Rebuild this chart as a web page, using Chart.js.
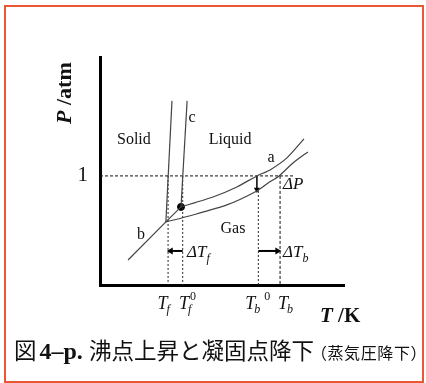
<!DOCTYPE html>
<html lang="ja">
<head>
<meta charset="UTF-8">
<title>沸点上昇と凝固点降下</title>
<script src="https://cdn.jsdelivr.net/npm/chart.js@4.4.2/dist/chart.umd.min.js"></script>
<style>
  body { margin: 0; background: #fff; }
  #wrap { position: relative; width: 426px; height: 383px; overflow: hidden; }
  #frame {
    position: absolute; left: 4px; top: 5px; width: 416px; height: 374px;
    border: 2px solid #ea5734; pointer-events: none;
  }
  canvas { position: absolute; left: 0; top: 0; }
  #caption {
    position: absolute; left: 14px; top: 334px; white-space: nowrap;
    font-family: 'Noto Sans CJK JP', sans-serif; font-size: 22.5px; line-height: 30px; color: #111;
  }
  #caption .num { font-family: 'Liberation Serif', serif; font-weight: bold; font-size: 24px; margin-left: 3px; }
  #caption .small { font-size: 16px; letter-spacing: 0.6px; margin-left: -3px; }
</style>
</head>
<body>
<div id="wrap">
  <canvas id="phase" width="426" height="383"></canvas>
  <div id="frame"></div>
  <div id="caption">図<span class="num">4–p. </span>沸点上昇と凝固点降下<span class="small">（蒸気圧降下）</span></div>
</div>

<script>
  // 軸の範囲 (T は任意単位, P は atm)
  const T_MIN = 0, T_MAX = 10;
  const P_MIN = 0, P_MAX = 2.09;

  // 昇華曲線 b
  const subT = [1.15, 2.70, 3.32];
  const subP = [0.229, 0.578, 0.716];

  // 純溶媒の蒸気圧曲線 a
  const vapT = [3.32, 4.63, 5.61, 6.43, 6.97, 7.66, 8.36];
  const vapP = [0.716, 0.807, 0.899, 1.000, 1.055, 1.165, 1.339];

  // 溶液の蒸気圧曲線
  const solVapT = [2.70, 3.81, 5.20, 6.43, 6.89, 7.34, 7.91, 8.52];
  const solVapP = [0.578, 0.642, 0.734, 0.862, 0.936, 1.000, 1.119, 1.220];

  // 融解曲線 c (純溶媒) と溶液
  const fusT = [3.32, 3.57];
  const fusP = [0.716, 1.688];
  const solFusT = [2.70, 2.95];
  const solFusP = [0.578, 1.688];

  // 三重点
  const tripleT = 3.32, tripleP = 0.716;

  // 温度の目盛り
  const Tf = 2.79, Tf0 = 3.39, Tb0 = 6.49, Tb = 7.38;
  const tickT = [Tf, Tf0, Tb0, Tb];
  const tickMain = ['T', 'T', 'T', 'T'];
  const tickSub = ['f', 'f', 'b', 'b'];
  const tickSup = ['', '0', '0', ''];
  const tickShift = [-4, 3, 0, 6];

  // 圧力の目盛り
  const pTicks = [1];
  const pTickLabels = ['1'];

  // 1 atm の線
  const oneAtmT = [0, 7.99];

  // 矢印
  const dPArrowT = 6.43, dPArrowP = [1.0, 0.875];
  const arrowP = 0.312;
  const dTfArrowT = [3.39, 2.90];
  const dTbArrowT = [6.49, 7.27];

  // 文字ラベル
  const regionText = ['Solid', 'Liquid', 'Gas', 'a', 'b', 'c'];
  const regionT = [1.39, 5.33, 5.45, 7.01, 1.68, 3.77];
  const regionP = [1.339, 1.339, 0.523, 1.174, 0.468, 1.541];

  const pts = (xs, ys) => xs.map((v, i) => ({ x: v, y: ys[i] }));
  const curve = '#444';
  const serif = '"Liberation Serif", "Times New Roman", serif';

  function line(data, opts) {
    return Object.assign({
      data: data, showLine: true, pointRadius: 0, borderColor: curve,
      borderWidth: 1.2, tension: 0, fill: false
    }, opts || {});
  }

  const datasets = [
    line(pts(subT, subP)),
    line(pts(vapT, vapP), { tension: 0.2 }),
    line(pts(solVapT, solVapP), { tension: 0.2 }),
    line(pts(fusT, fusP)),
    line(pts(solFusT, solFusP)),
    line(pts(oneAtmT, [1, 1]), { borderColor: '#111', borderWidth: 1, borderDash: [3, 2] }),
    line(pts([Tf, Tf], [1, 0]), { borderColor: '#222', borderWidth: 1, borderDash: [2, 2] }),
    line(pts([Tf0, Tf0], [1, 0]), { borderColor: '#222', borderWidth: 1, borderDash: [2, 2] }),
    line(pts([Tb0, Tb0], [solVapP[3], 0]), { borderColor: '#222', borderWidth: 1, borderDash: [2, 2] }),
    line(pts([Tb, Tb], [1, 0]), { borderColor: '#111', borderWidth: 1, borderDash: [3, 2] }),
    // 矢印
    line(pts([dPArrowT, dPArrowT], dPArrowP), {
      borderColor: '#000', borderWidth: 1.5, pointStyle: 'triangle',
      pointRadius: [0, 3.5], rotation: [0, 180], pointBackgroundColor: '#000', pointBorderWidth: 0
    }),
    line(pts(dTfArrowT, [arrowP, arrowP]), {
      borderColor: '#000', borderWidth: 2, pointStyle: 'triangle',
      pointRadius: [0, 4], rotation: [0, 270], pointBackgroundColor: '#000', pointBorderWidth: 0
    }),
    line(pts(dTbArrowT, [arrowP, arrowP]), {
      borderColor: '#000', borderWidth: 2, pointStyle: 'triangle',
      pointRadius: [0, 4], rotation: [0, 90], pointBackgroundColor: '#000', pointBorderWidth: 0
    }),
    // 三重点
    { data: [{ x: tripleT, y: tripleP }], pointRadius: 3.5, pointBackgroundColor: '#000', pointBorderColor: '#000' }
  ];

  // 部分ごとにフォントを変えて文字を書く
  function rich(ctx, parts, x, y) {
    let cx = x;
    parts.forEach(p => {
      ctx.font = p.font;
      ctx.fillText(p.t, cx, y + (p.dy || 0));
      cx += ctx.measureText(p.t).width + (p.gap || 0);
    });
  }

  const textPlugin = {
    id: 'phaseText',
    afterDraw(chart) {
      const { ctx, scales: { x, y } } = chart;
      ctx.save();
      ctx.fillStyle = '#111';
      ctx.textBaseline = 'alphabetic';

      // 領域名
      ctx.textAlign = 'center';
      ctx.font = '16px ' + serif;
      regionText.forEach((t, i) => {
        ctx.fillText(t, x.getPixelForValue(regionT[i]), y.getPixelForValue(regionP[i]) + 5);
      });

      ctx.textAlign = 'left';
      const it = 'italic 17px ' + serif;
      const itT = 'italic 18px ' + serif;
      const itS = 'italic 12px ' + serif;
      const upS = '12px ' + serif;

      // ΔP, ΔTf, ΔTb
      rich(ctx, [{ t: 'Δ', font: it }, { t: 'P', font: it }],
        x.getPixelForValue(7.50), y.getPixelForValue(0.936) + 6);
      rich(ctx, [{ t: 'Δ', font: it }, { t: 'T', font: it }, { t: 'f', font: itS, dy: 5 }],
        x.getPixelForValue(3.57), y.getPixelForValue(arrowP) + 6);
      rich(ctx, [{ t: 'Δ', font: it }, { t: 'T', font: it }, { t: 'b', font: itS, dy: 5 }],
        x.getPixelForValue(7.50), y.getPixelForValue(arrowP) + 6);

      // 温度の目盛りラベル
      tickT.forEach((v, i) => {
        const px = x.getPixelForValue(v) + tickShift[i];
        const base = 309;
        ctx.font = itT;
        const wT = ctx.measureText(tickMain[i]).width;
        ctx.font = itS;
        const wSub = ctx.measureText(tickSub[i]).width;
        const after = tickSup[i] && tickSub[i] === 'b';
        const total = wT + wSub + (after ? 10 : 0);
        const sx = px - total / 2;
        ctx.font = itT;
        ctx.fillText(tickMain[i], sx, base);
        ctx.font = itS;
        ctx.fillText(tickSub[i], sx + wT - 1, base + 4);
        if (tickSup[i]) {
          ctx.font = upS;
          const supX = after ? sx + wT + wSub + 3 : sx + wT + 1;
          ctx.fillText(tickSup[i], supX, base - 9);
        }
      });

      // 軸タイトル
      rich(ctx, [{ t: 'T', font: 'bold italic 21px ' + serif }, { t: ' /K', font: 'bold 21px ' + serif }],
        320, 322);
      ctx.translate(71, 124);
      ctx.rotate(-Math.PI / 2);
      rich(ctx, [{ t: 'P', font: 'bold italic 22px ' + serif }, { t: ' /atm', font: 'bold 22px ' + serif }],
        0, 0);
      ctx.restore();
    }
  };

  new Chart(document.getElementById('phase'), {
    type: 'scatter',
    data: { datasets: datasets },
    options: {
      responsive: false,
      animation: false,
      devicePixelRatio: 1,
      layout: { padding: { top: 57, right: 82, left: 0, bottom: 0 } },
      plugins: { legend: { display: false }, tooltip: { enabled: false } },
      scales: {
        x: {
          type: 'linear', min: T_MIN, max: T_MAX,
          grid: { display: false, drawTicks: false },
          border: { display: true, width: 3, color: '#000' },
          ticks: { display: false },
          afterFit(scale) { scale.height = 98; }
        },
        y: {
          type: 'linear', min: P_MIN, max: P_MAX,
          grid: { display: false, drawTicks: false },
          border: { display: true, width: 3, color: '#000' },
          afterBuildTicks(scale) { scale.ticks = pTicks.map(v => ({ value: v })); },
          ticks: {
            color: '#111', padding: 12,
            font: { family: 'Liberation Serif', size: 21 },
            callback: (v) => pTickLabels[pTicks.indexOf(v)]
          },
          afterFit(scale) { scale.width = 100; }
        }
      }
    },
    plugins: [textPlugin]
  });
</script>
</body>
</html>
